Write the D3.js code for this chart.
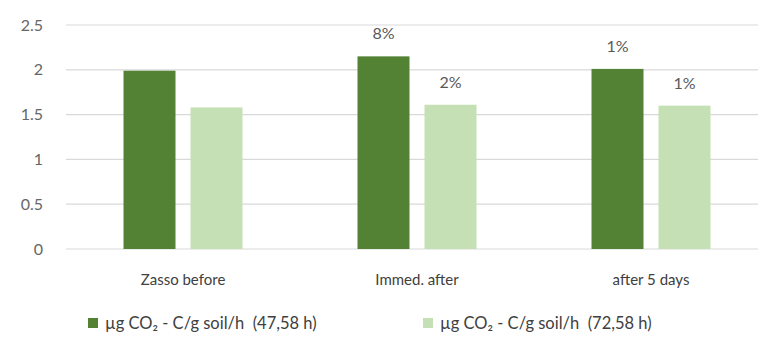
<!DOCTYPE html>
<html>
<head>
<meta charset="utf-8">
<script src="https://cdn.jsdelivr.net/npm/d3@7"></script>
<style>
  html, body { margin: 0; padding: 0; background: #fff; }
  svg text { font-family: Lato, "Open Sans", sans-serif; white-space: pre; }
</style>
</head>
<body>
<svg id="chart" width="758" height="338"></svg>
<script>
// Soil respiration before and after treatment
const categories = ["Zasso before", "Immed. after", "after 5 days"];
const seriesNames = ["µg CO₂ - C/g soil/h  (47,58 h)", "µg CO₂ - C/g soil/h  (72,58 h)"];
const series47 = [1.99, 2.15, 2.01];
const series72 = [1.58, 1.61, 1.60];
const changeLabels47 = ["", "8%", "1%"];
const changeLabels72 = ["", "2%", "1%"];
const yTicks = [0, 0.5, 1, 1.5, 2, 2.5];
const colors = ["#548235", "#c5e0b4"];

const svg = d3.select("#chart");
const margin = { left: 66, right: -10, top: 25, bottom: 89 };
const W = 758, H = 338;

const x = d3.scaleBand().domain(categories).range([margin.left, W - margin.right]).paddingInner(0).paddingOuter(0);
const y = d3.scaleLinear().domain([0, 2.5]).range([H - margin.bottom, margin.top]);

const barW = 52, gap = 15;

// gridlines
svg.append("g").selectAll("line").data(yTicks).join("line")
  .attr("x1", margin.left).attr("x2", W)
  .attr("y1", d => y(d)).attr("y2", d => y(d))
  .attr("stroke", "#d9d9d9").attr("stroke-width", 1.2);

// y axis labels
const yAxis = d3.axisLeft(y).tickValues(yTicks).tickSize(0).tickPadding(0)
  .tickFormat(d => String(d));
const yg = svg.append("g").attr("transform", `translate(${margin.left - 23},0)`).call(yAxis);
yg.select(".domain").remove();
yg.selectAll("text").attr("fill", "#666666").style("font-size", "16px")
  .style("font-family", "Lato, 'Open Sans', sans-serif");

// bars and change labels
const rows = categories.map((c, i) => ({ c, v: [series47[i], series72[i]], l: [changeLabels47[i], changeLabels72[i]] }));
const groups = svg.append("g").selectAll("g").data(rows).join("g");
[0, 1].forEach(s => {
  groups.append("rect")
    .attr("x", d => x(d.c) + x.bandwidth() / 2 + (s === 0 ? -gap / 2 - barW : gap / 2))
    .attr("width", barW)
    .attr("y", d => y(d.v[s]))
    .attr("height", d => y(0) - y(d.v[s]))
    .attr("fill", colors[s]);
  groups.append("text")
    .attr("x", d => x(d.c) + x.bandwidth() / 2 + (s === 0 ? -gap / 2 - barW / 2 : gap / 2 + barW / 2))
    .attr("y", d => y(d.v[s]) - 17)
    .attr("text-anchor", "middle")
    .attr("fill", "#595959").style("font-size", "16px")
    .text(d => d.l[s]);
});

// category labels
const xAxis = d3.axisBottom(x).tickSize(0).tickPadding(0);
const xg = svg.append("g").attr("transform", `translate(0,${y(0) + 25})`).call(xAxis);
xg.select(".domain").remove();
xg.selectAll("text").attr("fill", "#404040").style("font-size", "15px")
  .style("font-family", "Lato, 'Open Sans', sans-serif");

// legend
const legendX = [88, 423];
const lg = svg.append("g").selectAll("g").data(seriesNames).join("g")
  .attr("transform", (d, i) => `translate(${legendX[i]},323)`);
lg.append("rect").attr("x", 0).attr("y", -5).attr("width", 10).attr("height", 10)
  .attr("fill", (d, i) => colors[i]);
lg.append("text").attr("x", 17).attr("y", 0).attr("dy", "0.35em")
  .attr("fill", "#404040").style("font-size", "16.5px")
  .text(d => d);
</script>
</body>
</html>
